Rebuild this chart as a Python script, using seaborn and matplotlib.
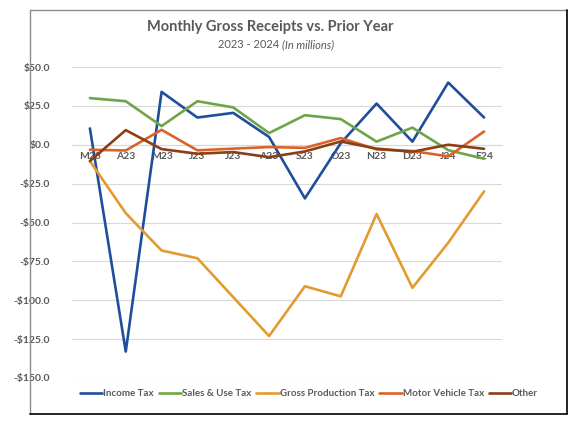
import pandas as pd
import matplotlib
matplotlib.use("Agg")
import matplotlib.pyplot as plt
from matplotlib.lines import Line2D
import seaborn as sns

# Monthly receipts vs prior year, in millions
months = ["M23", "A23", "M23", "J23", "J23", "A23", "S23", "O23", "N23", "D23", "J24", "F24"]
income_tax = [10.5, -133, 34, 17.5, 20.5, 5, -34.5, 1, 26.5, 2, 40, 17.5]
sales_use_tax = [30, 28, 12, 28, 24, 7.5, 19, 16.5, 2, 11, -3.5, -9]
gross_production_tax = [-10.5, -44, -68, -73, -98, -123, -91, -97.5, -44.5, -92, -63, -30]
motor_vehicle_tax = [-3.2, -3.7, 9.6, -3.6, -2.5, -1.5, -2, 4.3, -3, -4, -7.5, 8.5]
other = [-10.5, 9.4, -2.8, -5.8, -4.7, -8, -4.3, 2.1, -2.5, -4.5, 0, -2.6]

series = {
    "Income Tax": income_tax,
    "Sales & Use Tax": sales_use_tax,
    "Gross Production Tax": gross_production_tax,
    "Motor Vehicle Tax": motor_vehicle_tax,
    "Other": other,
}
colors = ["#1f4e9c", "#6fa548", "#e39b30", "#dc6328", "#8a3f16"]

rows = []
for name, vals in series.items():
    for i, v in enumerate(vals):
        rows.append({"idx": i, "value": v, "series": name})
df = pd.DataFrame(rows)

sns.set_theme(style="white")
plt.rcParams["font.family"] = ["Lato", "DejaVu Sans"]

fig = plt.figure(figsize=(5.77, 4.25), dpi=100)
ax = fig.add_axes([72 / 577, 1 - 378 / 425, 430 / 577, (378 - 67) / 425])

sns.lineplot(data=df, x="idx", y="value", hue="series", palette=colors,
             linewidth=1.9, ax=ax, legend=False, sort=False)

ax.set_xlim(-0.5, 11.5)
ax.set_ylim(-150, 50)
ax.set_yticks(range(-150, 51, 25))
ax.set_yticklabels([f"${v:.1f}" if v >= 0 else f"-${-v:.1f}" for v in range(-150, 51, 25)],
                   fontsize=7.5, fontweight="bold", color="#595959")
ax.yaxis.grid(True, color="#d9d9d9", linewidth=0.8)
ax.set_axisbelow(True)
for s in ["left", "right", "top"]:
    ax.spines[s].set_visible(False)
ax.spines["bottom"].set_position(("data", 0))
ax.spines["bottom"].set_color("#d0d0d0")
ax.spines["bottom"].set_linewidth(0.8)
ax.spines["bottom"].set_zorder(0)

ax.set_xticks(range(len(months)))
ax.set_xticklabels(months, fontsize=7.5, fontweight="bold", color="#595959")
ax.set_xticks([i - 0.5 for i in range(len(months) + 1)], minor=True)
ax.tick_params(axis="x", which="major", length=0, pad=5)
ax.tick_params(axis="x", which="minor", length=4, color="#d0d0d0", direction="out")
ax.tick_params(axis="y", length=0, pad=16)
ax.set_xlabel("")
ax.set_ylabel("")

fig.text(270 / 577, 1 - 27 / 425, "Monthly Gross Receipts vs. Prior Year",
         ha="center", va="center", fontsize=10.5, fontweight="bold", color="#595959")
fig.text(282 / 577, 1 - 45 / 425, "2023 - 2024 ", ha="right", va="center",
         fontsize=8, color="#595959")
fig.text(282 / 577, 1 - 45 / 425, "(In millions)", ha="left", va="center",
         fontsize=8, style="italic", color="#595959")

handles = [Line2D([0], [0], color=c, linewidth=1.9) for c in colors]
fig.legend(handles, list(series.keys()), loc="center", ncol=5,
           bbox_to_anchor=(309 / 577, 1 - 394 / 425), frameon=False,
           handlelength=2.3, handletextpad=0.1, columnspacing=0.5,
           prop={"weight": "bold", "size": 7})
for t in fig.legends[0].get_texts():
    t.set_color("#595959")

# chart border
fig.add_artist(Line2D([30 / 577, 30 / 577], [1 - 10 / 425, 1 - 414 / 425], color="#8c8c8c", linewidth=1))
fig.add_artist(Line2D([30 / 577, 567 / 577], [1 - 10 / 425, 1 - 10 / 425], color="#8c8c8c", linewidth=1))
fig.add_artist(Line2D([567 / 577, 567 / 577], [1 - 10 / 425, 1 - 414 / 425], color="black", linewidth=1.2))
fig.add_artist(Line2D([30 / 577, 567 / 577], [1 - 414 / 425, 1 - 414 / 425], color="black", linewidth=1.2))

fig.savefig("out.png", dpi=100)
